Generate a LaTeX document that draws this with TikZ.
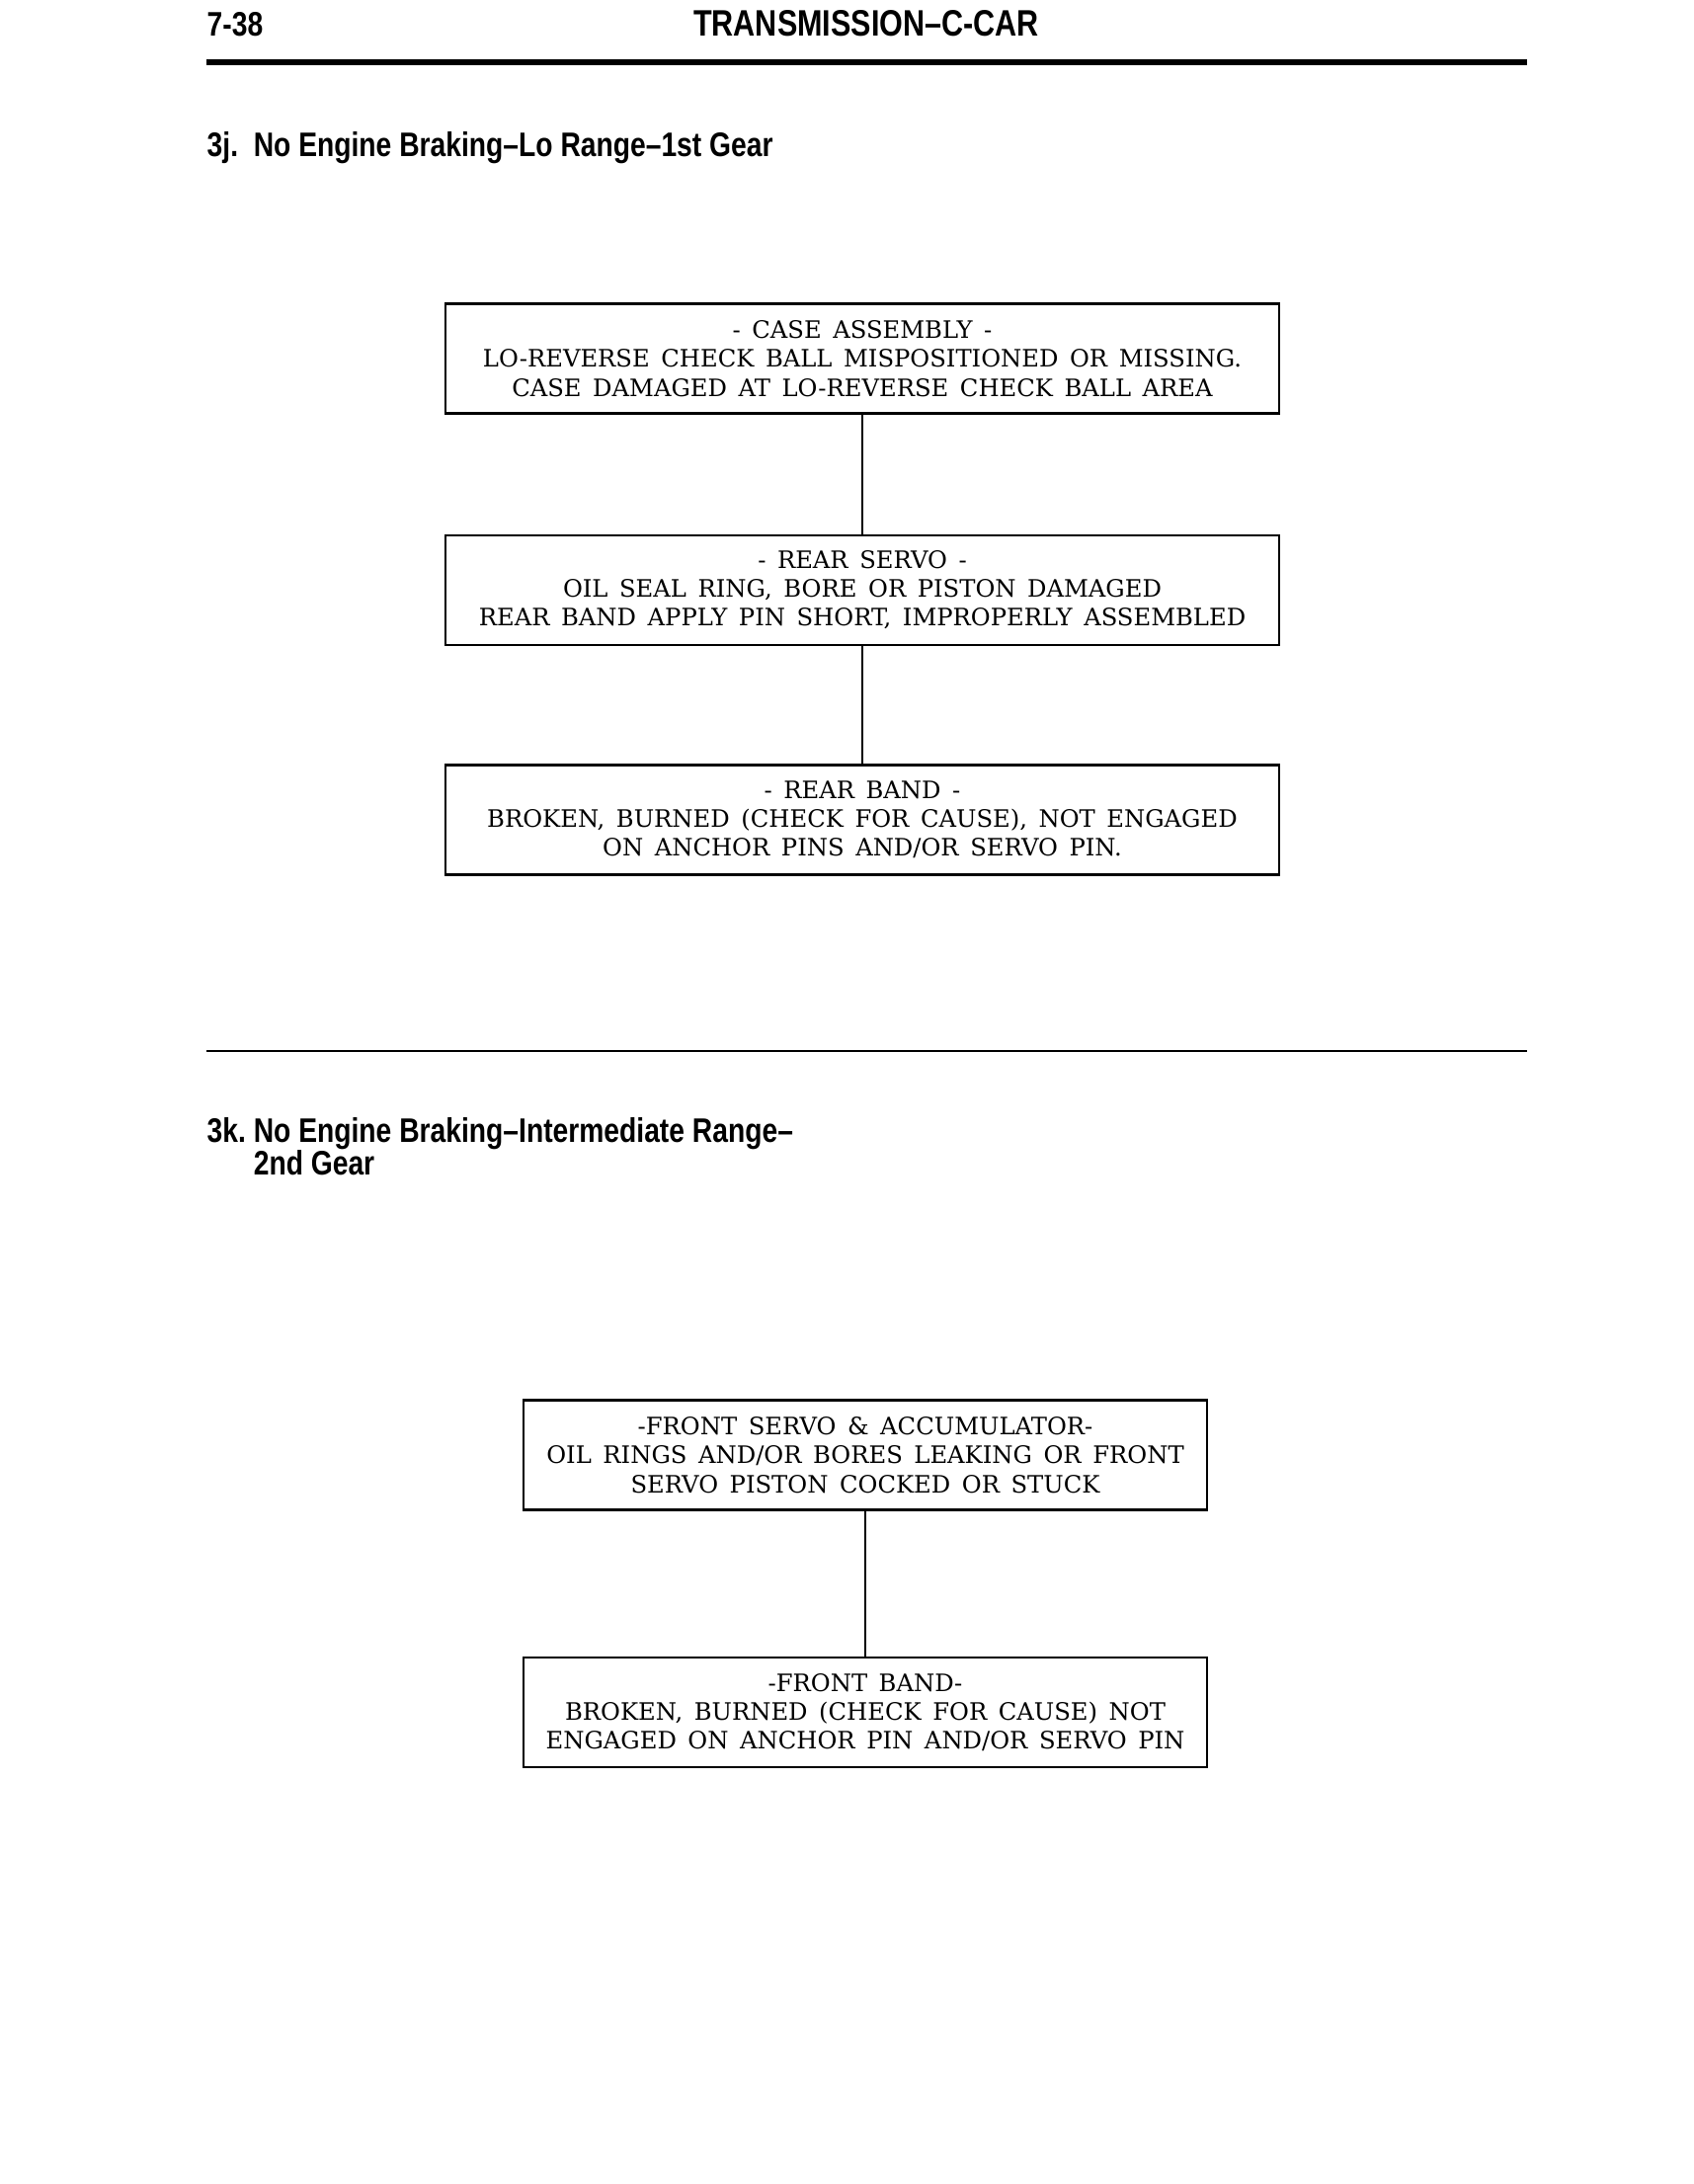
\documentclass[tikz,border=0pt]{standalone}
\usepackage{fontspec}
\setmainfont{DejaVu Serif}[WordSpace=1.5]
\newfontfamily\headfont[FakeStretch=0.82]{Liberation Sans}
\usetikzlibrary{positioning}

\begin{document}
\begin{tikzpicture}[node distance=1.21cm,
    cause/.style={draw, line width=0.7pt, minimum width=8.44cm, minimum height=1.11cm, align=center, inner sep=0pt, font=\fontsize{6.9}{8.3}\selectfont},
    heading/.style={anchor=base west, inner sep=0pt, font=\headfont\bfseries\fontsize{9.8}{9.2}\selectfont},
    link/.style={line width=0.7pt}]

    \useasboundingbox (0,0) rectangle (17.14,-22.11);

    % page head
    \node[heading] (page) at (2.09,-0.37) {7-38};
    \node[heading, anchor=base, font=\headfont\bfseries\fontsize{10.6}{11}\selectfont] (title) at (8.77,-0.37) {TRANSMISSION–C-CAR};
    \draw[line width=1.5pt] (2.09,-0.63) coordinate (headl) -- (15.46,-0.63) coordinate (headr);

    % 3j
    \node[heading] (jtitle) at (2.09,-1.58) {3j.\ \ No Engine Braking–Lo Range–1st Gear};

    \node[cause] (case) at (8.73,-3.63) {- CASE ASSEMBLY -\\LO-REVERSE CHECK BALL MISPOSITIONED OR MISSING.\\CASE DAMAGED AT LO-REVERSE CHECK BALL AREA};
    \node[cause, below=of case] (rservo) {- REAR SERVO -\\OIL SEAL RING, BORE OR PISTON DAMAGED\\REAR BAND APPLY PIN SHORT, IMPROPERLY ASSEMBLED};
    \node[cause, below=1.19cm of rservo] (rband) {- REAR BAND -\\BROKEN, BURNED (CHECK FOR CAUSE), NOT ENGAGED\\ON ANCHOR PINS AND/OR SERVO PIN.};

    \draw[link] (case) -- (rservo);
    \draw[link] (rservo) -- (rband);

    \draw[line width=0.6pt] (2.09,-10.64) coordinate (midl) -- (15.46,-10.64) coordinate (midr);

    % 3k
    \node[heading, align=left, anchor=north west, font=\headfont\bfseries\fontsize{9.8}{9.4}\selectfont] (ktitle) at (2.09,-11.31) {3k.\ No Engine Braking–Intermediate Range–\\\hphantom{3k.\ }2nd Gear};

    \node[cause, minimum width=6.92cm] (fservo) at (8.76,-14.73) {-FRONT SERVO \& ACCUMULATOR-\\OIL RINGS AND/OR BORES LEAKING OR FRONT\\SERVO PISTON COCKED OR STUCK};
    \node[cause, minimum width=6.92cm, below=1.47cm of fservo] (fband) {-FRONT BAND-\\BROKEN, BURNED (CHECK FOR CAUSE) NOT\\ENGAGED ON ANCHOR PIN AND/OR SERVO PIN};

    \draw[link] (fservo) -- (fband);
\end{tikzpicture}
\end{document}
